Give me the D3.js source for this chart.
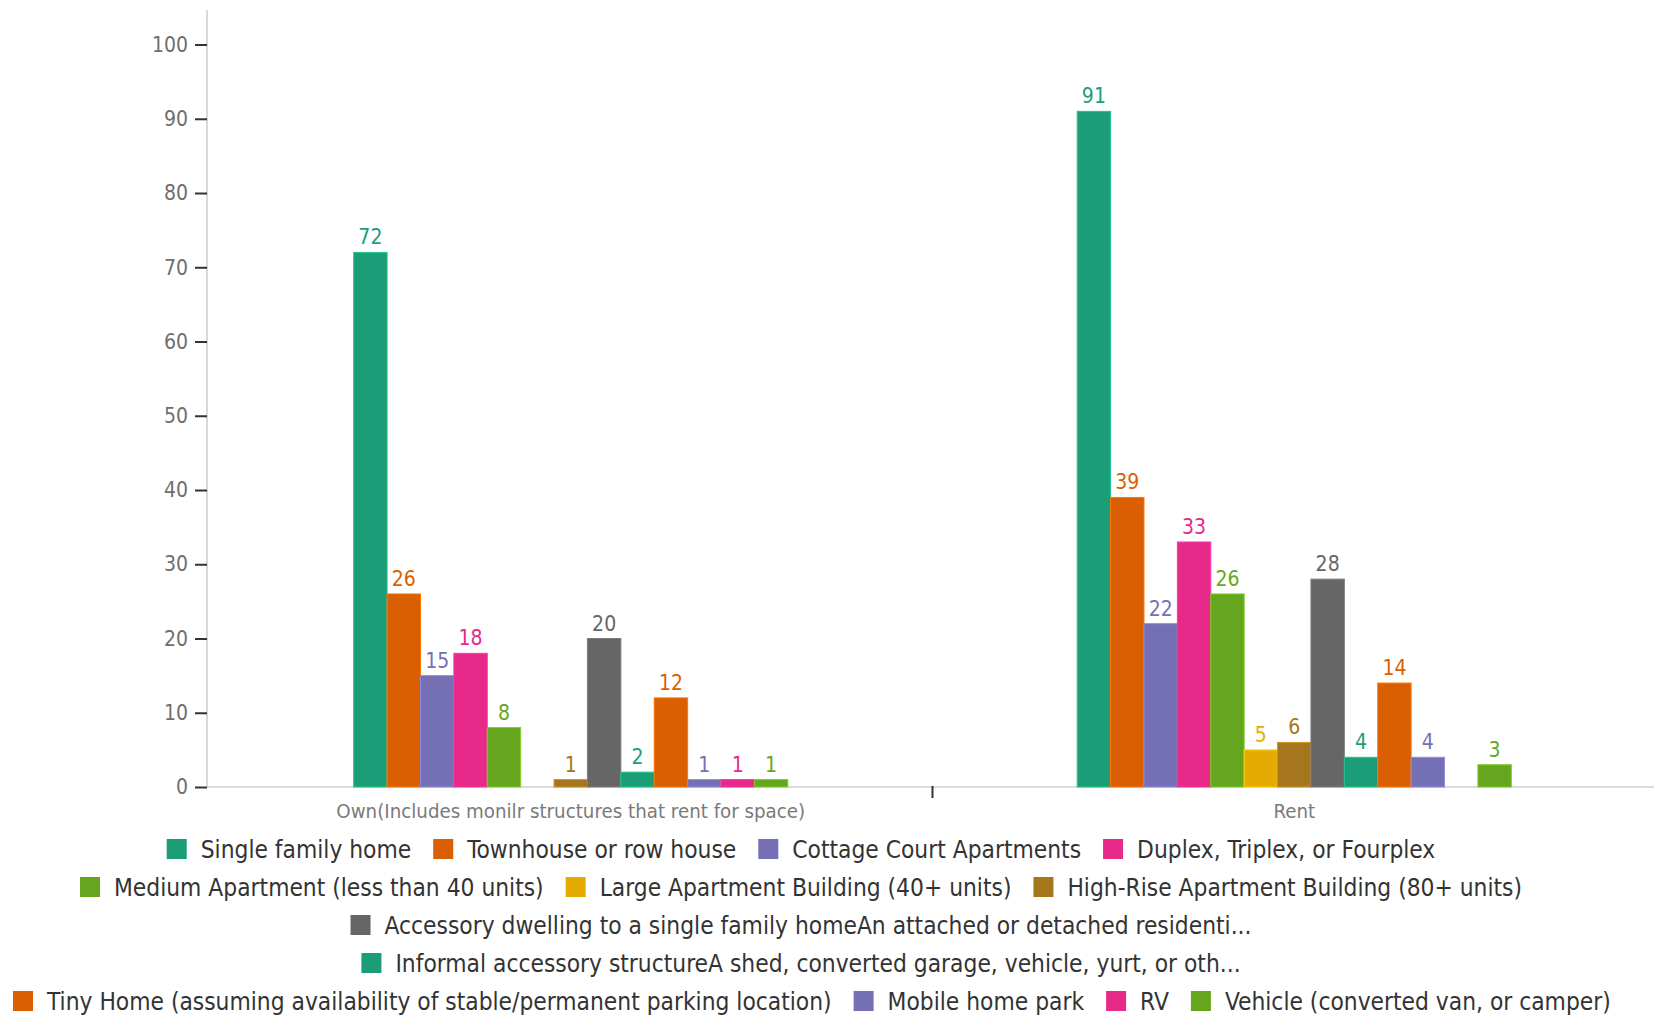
<!DOCTYPE html>
<html>
<head>
<meta charset="utf-8">
<script src="https://cdn.jsdelivr.net/npm/d3@7"></script>
<style>
  html, body { margin: 0; padding: 0; background: #ffffff; }
  svg { display: block; }
  text { font-family: "Liberation Sans Narrow", "DejaVu Sans Condensed", "Roboto Condensed", "Open Sans", sans-serif; }
</style>
</head>
<body>
<svg id="chart" width="1654" height="1016"></svg>
<script>
// Housing types (one bar per type inside each tenure group)
const housingTypes = [
  "Single family home",
  "Townhouse or row house",
  "Cottage Court Apartments",
  "Duplex, Triplex, or Fourplex",
  "Medium Apartment (less than 40 units)",
  "Large Apartment Building (40+ units)",
  "High-Rise Apartment Building (80+ units)",
  "Accessory dwelling to a single family homeAn attached or detached residenti...",
  "Informal accessory structureA shed, converted garage, vehicle, yurt, or oth...",
  "Tiny Home (assuming availability of stable/permanent parking location)",
  "Mobile home park",
  "RV",
  "Vehicle (converted van, or camper)"
];

// Tenure groups on the x axis
const tenures = ["Own(Includes monilr structures that rent for space)", "Rent"];

// Counts per housing type, in the order of housingTypes (null = no responses)
const ownValues  = [72, 26, 15, 18, 8, null, 1, 20, 2, 12, 1, 1, 1];
const rentValues = [91, 39, 22, 33, 26, 5, 6, 28, 4, 14, 4, null, 3];

// Y axis tick values
const yTicks = [0, 10, 20, 30, 40, 50, 60, 70, 80, 90, 100];

// Legend rows (indices into housingTypes)
const legendRows = [[0, 1, 2, 3], [4, 5, 6], [7], [8], [9, 10, 11, 12]];

const valuesByTenure = [ownValues, rentValues];
const palette = d3.schemeDark2;
const color = d3.scaleOrdinal().domain(housingTypes)
  .range(housingTypes.map((_, i) => palette[i % palette.length]));

const svg = d3.select("#chart");
const plot = { left: 209, right: 1656, top: 10, bottom: 787 };

const maxVal = d3.max(valuesByTenure.flat());
const y = d3.scaleLinear().domain([0, maxVal * 1.15]).range([plot.bottom, plot.top]);

const x0 = d3.scaleBand().domain(tenures).range([plot.left, plot.right]).padding(0);
const bw = x0.bandwidth();
const x1 = d3.scaleBand().domain(housingTypes).range([bw * 0.2, bw * 0.8]).padding(0);

// Y axis
const yAxis = d3.axisLeft(y).tickValues(yTicks).tickSize(12).tickPadding(7);
const yG = svg.append("g").attr("transform", `translate(${plot.left - 2},0)`).call(yAxis);
yG.select(".domain").attr("stroke", "#d9d9d9").attr("stroke-width", 2)
  .attr("d", `M0,${plot.top}V${plot.bottom}`);
yG.selectAll(".tick line").attr("stroke", "#333").attr("stroke-width", 2);
yG.selectAll(".tick text").attr("fill", "#6e6e6e").style("font-size", "21px");

// X axis
const xAxis = d3.axisBottom(x0).tickSize(0).tickPadding(17);
const xG = svg.append("g").attr("transform", `translate(0,${plot.bottom})`).call(xAxis);
xG.select(".domain").attr("stroke", "#dcdcdc").attr("stroke-width", 2)
  .attr("d", `M${plot.left - 2},0H1654`);
xG.selectAll(".tick text").attr("fill", "#7a7a7a").style("font-size", "20.3px");

// Divider tick between the two groups
xG.append("line")
  .attr("x1", x0(tenures[1])).attr("x2", x0(tenures[1]))
  .attr("y1", -1).attr("y2", 11)
  .attr("stroke", "#333").attr("stroke-width", 2);

// Bars and value labels
tenures.forEach((t, ti) => {
  const rows = housingTypes.map((h, i) => ({ key: h, value: valuesByTenure[ti][i] }))
    .filter(d => d.value != null);
  const g = svg.append("g").attr("transform", `translate(${x0(t)},0)`);
  g.selectAll("rect").data(rows).join("rect")
    .attr("x", d => x1(d.key))
    .attr("y", d => y(d.value))
    .attr("width", x1.bandwidth())
    .attr("height", d => y(0) - y(d.value))
    .attr("fill", d => color(d.key))
    .attr("stroke", d => d3.color(color(d.key)).brighter(0.6))
    .attr("stroke-width", 1);
  g.selectAll("text").data(rows).join("text")
    .attr("x", d => x1(d.key) + x1.bandwidth() / 2)
    .attr("y", d => y(d.value) - 8)
    .attr("text-anchor", "middle")
    .attr("fill", d => color(d.key))
    .style("font-size", "21px")
    .text(d => d.value);
});

// Legend
const legend = svg.append("g");
const sw = 20, swGap = 14, itemGap = 22, rowH = 38, legendTop = 849, legendCenter = 801;
legendRows.forEach((row, ri) => {
  const rg = legend.append("g");
  let cx = 0;
  row.forEach(i => {
    const item = rg.append("g").attr("transform", `translate(${cx},0)`);
    item.append("rect").attr("x", 0).attr("y", -sw / 2).attr("width", sw).attr("height", sw)
      .attr("fill", color(housingTypes[i]));
    const tx = item.append("text").attr("x", sw + swGap).attr("y", 0)
      .attr("dy", "0.35em").attr("fill", "#333").style("font-size", "24.3px")
      .text(housingTypes[i]);
    cx += sw + swGap + tx.node().getComputedTextLength() + itemGap;
  });
  const w = cx - itemGap;
  const startX = Math.max(13, legendCenter - w / 2);
  rg.attr("transform", `translate(${startX},${legendTop + ri * rowH})`);
});
</script>
</body>
</html>
